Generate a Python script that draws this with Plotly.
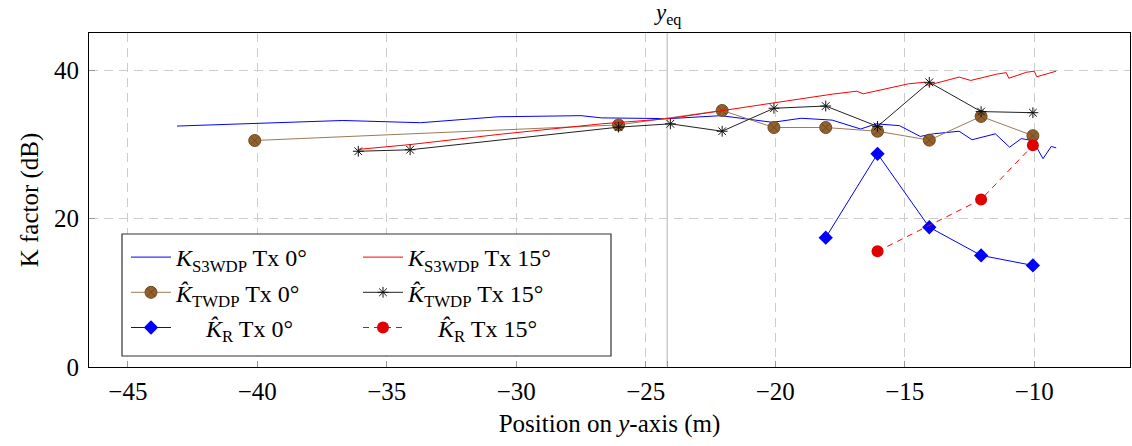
import plotly.graph_objects as go

# ---------------- data ----------------
s3_0_x = [-43.1, -40.0, -36.7, -33.7, -30.7, -27.5, -26.7, -24.1, -22.1, -20.1, -19.0, -17.8, -16.7, -16.1,
          -15.2, -14.4, -13.9, -12.9, -12.4, -11.5, -10.95, -10.5, -10.05, -9.66, -9.34, -9.15]
s3_0_y = [32.5, 32.9, 33.25, 32.95, 33.75, 33.9, 33.6, 33.5, 33.9, 33.0, 33.55, 33.3, 32.1, 32.8,
          32.55, 31.1, 31.45, 31.8, 30.65, 31.45, 29.65, 30.8, 30.55, 28.1, 29.75, 29.55]

s3_15_x = [-36.1, -34.1, -30.6, -26.7, -24.1, -22.1, -20.1, -17.8, -16.85, -16.6, -14.85, -14.25, -14.1,
           -12.9, -12.45, -11.45, -11.08, -10.98, -10.3, -10.0, -9.9, -9.15]
s3_15_y = [29.35, 30.0, 31.4, 32.8, 33.5, 34.6, 35.6, 36.8, 37.2, 36.85, 38.2, 38.4, 38.0,
           39.1, 38.65, 39.5, 39.7, 38.95, 39.75, 39.9, 39.15, 39.9]

twdp_0_x = [-40.1, -26.05, -22.05, -20.05, -18.05, -16.05, -14.05, -12.05, -10.05]
twdp_0_y = [30.55, 32.65, 34.6, 32.3, 32.3, 31.8, 30.6, 33.8, 31.2]

twdp_15_x = [-36.1, -34.1, -26.05, -24.05, -22.05, -20.05, -18.05, -16.05, -14.05, -12.05, -10.05]
twdp_15_y = [29.1, 29.3, 32.35, 32.8, 31.8, 34.9, 35.2, 32.45, 38.4, 34.45, 34.3]

r_0_x = [-18.05, -16.05, -14.05, -12.05, -10.05]
r_0_y = [17.45, 28.75, 18.85, 15.05, 13.7]

r_15_x = [-16.05, -12.05, -10.05]
r_15_y = [15.6, 22.6, 29.9]

y_eq = -24.17

x_ticks = [-45, -40, -35, -30, -25, -20, -15, -10]
y_ticks = [0, 20, 40]

FONT = "Liberation Serif"
KH = "<i>K\u0302</i>"
PAD = "\u00a0" * 5

fig = go.Figure()

fig.add_trace(go.Scatter(x=s3_0_x, y=s3_0_y, mode="lines", line=dict(color="#0000FF", width=1),
                         name="<i>K</i><sub>S3WDP</sub> Tx 0°", legend="legend", legendgroup="a"))
fig.add_trace(go.Scatter(x=twdp_0_x, y=twdp_0_y, mode="lines+markers",
                         line=dict(color="#9A7A58", width=1),
                         marker=dict(symbol="circle-x", size=12, color="#94612C",
                                     line=dict(color="#6E4A22", width=1)),
                         name=KH + "<sub>TWDP</sub> Tx 0°", legend="legend", legendgroup="b"))
fig.add_trace(go.Scatter(x=r_0_x, y=r_0_y, mode="lines+markers", line=dict(color="#0000FF", width=1),
                         marker=dict(symbol="diamond", size=11, color="#0000FF"),
                         name=PAD + KH + "<sub>R</sub> Tx 0°", legend="legend", legendgroup="c"))

fig.add_trace(go.Scatter(x=s3_15_x, y=s3_15_y, mode="lines", line=dict(color="#FF0000", width=1),
                         name="<i>K</i><sub>S3WDP</sub> Tx 15°", legend="legend2", legendgroup="d"))
fig.add_trace(go.Scatter(x=twdp_15_x, y=twdp_15_y, mode="lines+markers",
                         line=dict(color="#222222", width=1),
                         marker=dict(symbol="asterisk-open", size=9, color="#111111",
                                     line=dict(color="#111111", width=1)),
                         name=KH + "<sub>TWDP</sub> Tx 15°", legend="legend2", legendgroup="e"))
fig.add_trace(go.Scatter(x=r_15_x, y=r_15_y, mode="lines+markers",
                         line=dict(color="#FF0000", width=1, dash="6px,5px"),
                         marker=dict(symbol="circle", size=12, color="#E00000"),
                         name=PAD + KH + "<sub>R</sub> Tx 15°", legend="legend2", legendgroup="f"))

L, R, T, B = 89, 2, 33, 79
W, H = 1132, 446
pw, ph = W - L - R, H - T - B

def px(xp):
    return (xp - L) / pw

def py(yp):
    return (H - B - yp) / ph

# legend frame
fig.add_shape(type="rect", xref="paper", yref="paper",
              x0=px(122), x1=px(611), y0=py(356), y1=py(234),
              line=dict(color="#333333", width=1.2), fillcolor="white", layer="above")

# y_eq line
fig.add_shape(type="line", xref="x", yref="paper", x0=y_eq, x1=y_eq, y0=0, y1=1,
              line=dict(color="#CCCCCC", width=1.5), layer="below")

fig.add_annotation(x=y_eq, y=1, xref="x", yref="paper", text="<i>y</i><sub>eq</sub>",
                   showarrow=False, yanchor="bottom", xanchor="center", yshift=2,
                   font=dict(family=FONT, size=23, color="black"))

legend_common = dict(bgcolor="rgba(0,0,0,0)", borderwidth=0, orientation="v",
                     font=dict(family=FONT, size=24, color="black"),
                     traceorder="grouped", tracegroupgap=1,
                     xanchor="left", yanchor="top", itemwidth=40)

fig.update_layout(
    width=W, height=H,
    margin=dict(l=L, r=R, t=T, b=B),
    paper_bgcolor="white", plot_bgcolor="white",
    font=dict(family=FONT, size=24, color="black"),
    showlegend=True,
    legend=dict(x=px(126), y=py(235), **legend_common),
    legend2=dict(x=px(358), y=py(235), **legend_common),
    xaxis=dict(range=[-46.5, -6.3], tickvals=x_ticks + [y_eq],
               ticktext=["\u2212" + str(abs(v)) for v in x_ticks] + [""],
               showgrid=True, gridcolor="#CCCCCC", griddash="9px,6px", gridwidth=1,
               zeroline=False, showline=True, linecolor="black", linewidth=1.2, mirror=True,
               ticks="inside", ticklen=6, tickcolor="#999999", tickwidth=1,
               tickfont=dict(family=FONT, size=25), ticklabelstandoff=2,
               title=dict(text="Position on <i>y</i>-axis (m)", font=dict(family=FONT, size=25), standoff=10)),
    yaxis=dict(range=[0, 45.05], tickvals=y_ticks, ticktext=[str(v) for v in y_ticks],
               showgrid=True, gridcolor="#CCCCCC", griddash="9px,6px", gridwidth=1,
               zeroline=False, showline=True, linecolor="black", linewidth=1.2, mirror=True,
               ticks="inside", ticklen=6, tickcolor="#999999", tickwidth=1,
               tickfont=dict(family=FONT, size=25), ticklabelstandoff=4,
               title=dict(text="K factor (dB)", font=dict(family=FONT, size=25), standoff=8)),
)

fig.write_html("out.html")
